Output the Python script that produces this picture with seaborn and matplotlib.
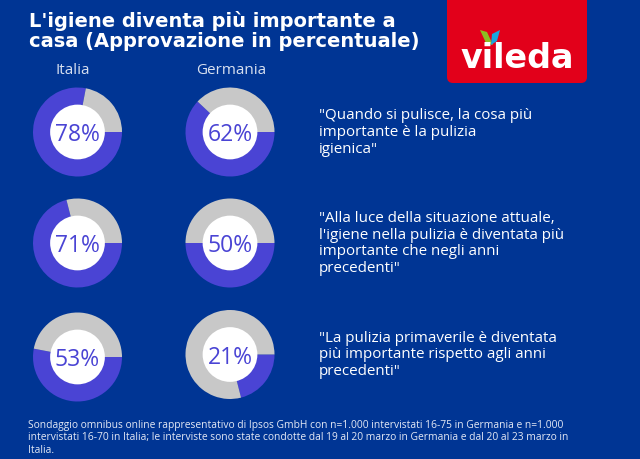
import matplotlib
matplotlib.use("Agg")
import matplotlib.pyplot as plt
from matplotlib.patches import FancyBboxPatch, Polygon
import seaborn as sns

countries = ["Italia", "Germania"]
italy = [78, 71, 53]
germany = [62, 50, 21]
quotes = ['"Quando si pulisce, la cosa più\nimportante è la pulizia\nigienica"',
          '"Alla luce della situazione attuale,\nl\'igiene nella pulizia è diventata più\nimportante che negli anni\nprecedenti"',
          '"La pulizia primaverile è diventata\npiù importante rispetto agli anni\nprecedenti"']
title = "L'igiene diventa più importante a\ncasa (Approvazione in percentuale)"
note = ("Sondaggio omnibus online rappresentativo di Ipsos GmbH con n=1.000 intervistati 16-75 in Germania e n=1.000\n"
        "intervistati 16-70 in Italia; le interviste sono state condotte dal 19 al 20 marzo in Germania e dal 20 al 23 marzo in\n"
        "Italia.")

BG, BLUE, GREY, RED = "#003594", "#4A44D4", "#C8C8C8", "#E2001A"
W, H = 640, 460
sns.set_theme(style="white")
plt.rcParams["font.family"] = ["Open Sans", "DejaVu Sans"]
fig = plt.figure(figsize=(W/100, H/100), dpi=100, facecolor=BG)

bg = fig.add_axes([0, 0, 1, 1])
bg.set_xlim(0, W); bg.set_ylim(H, 0); bg.axis("off")

# logo
bg.add_patch(FancyBboxPatch((447, -20), 140, 104, boxstyle="round,pad=0,rounding_size=6",
                            fc=RED, ec="none"))
bg.add_patch(Polygon([(480, 31), (487, 33), (493, 46), (486, 44)], fc="#8DBE22", ec="none"))
bg.add_patch(Polygon([(500, 31), (492, 35), (491, 46), (497, 42)], fc="#19A7E0", ec="none"))
bg.text(517, 68, "vileda", color="white", fontsize=24, fontweight="bold",
        ha="center", va="baseline", family="DejaVu Sans")

bg.text(29, 31, title, color="white", fontsize=14.05, fontweight="bold", family="DejaVu Sans",
        va="center", ha="left", linespacing=1.02)
for x, c in zip((73, 231), countries):
    bg.text(x, 71, c, color="#D8E0F0", fontsize=11, ha="center", va="center")
for y, q in zip((132.5, 243.5, 355), quotes):
    bg.text(319, y, q, color="white", fontsize=10.9, va="center", ha="left", linespacing=1.17)
bg.text(28, 438, note, color="#E4E9F5", fontsize=7.4, va="center", ha="left", linespacing=1.15)

centres_x = (77.5, 230)
centres_y = {"Italia": (133, 244, 358), "Germania": (133, 244, 355.5)}
R = 44.5
for cx, name, vals in zip(centres_x, countries, (italy, germany)):
    for cy, v in zip(centres_y[name], vals):
        ax = fig.add_axes([(cx-R)/W, 1-(cy+R)/H, 2*R/W, 2*R/H])
        ax.pie([v, 100-v], colors=[BLUE, GREY], startangle=0, counterclock=False, radius=1,
               wedgeprops=dict(linewidth=0))
        ax.set_xlim(-1, 1); ax.set_ylim(-1, 1)
        ax.add_patch(plt.Circle((0, 0), 0.615, fc="white", ec="none"))
        ax.text(0, 0.02, f"{v}%", color=BLUE, fontsize=16.5, ha="center", va="center_baseline")

fig.savefig("out.png", dpi=100, facecolor=BG)
